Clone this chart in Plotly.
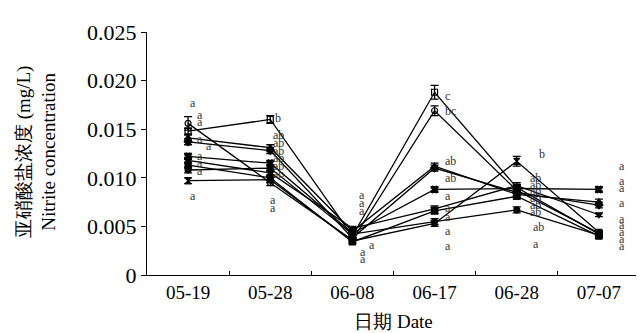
import plotly.graph_objects as go

dates = ["05-19", "05-28", "06-08", "06-17", "06-28", "07-07"]

s1 = [0.0148, 0.0160, 0.0040, 0.0188, 0.0090, 0.0042]
s2 = [0.0156, 0.0095, 0.0036, 0.0169, 0.0087, 0.0043]
s3 = [0.0141, 0.0131, 0.0045, 0.0112, 0.0083, 0.0075]
s4 = [0.0137, 0.0128, 0.0038, 0.0110, 0.0085, 0.0072]
s5 = [0.0122, 0.0115, 0.0043, 0.0088, 0.0089, 0.0088]
s6 = [0.0118, 0.0105, 0.0048, 0.0068, 0.0092, 0.0062]
s7 = [0.0113, 0.0100, 0.0034, 0.0066, 0.0081, 0.0040]
s8 = [0.0108, 0.0110, 0.0042, 0.0055, 0.0067, 0.0041]
s9 = [0.0097, 0.0098, 0.0035, 0.0053, 0.0117, 0.0044]

e1 = [0.0003, 0.0004, 0.0002, 0.0007, 0.0003, 0.0002]
e2 = [0.0007, 0.0003, 0.0002, 0.0005, 0.0003, 0.0002]
e3 = [0.0003, 0.0003, 0.0002, 0.0003, 0.0003, 0.0003]
e4 = [0.0003, 0.0003, 0.0002, 0.0003, 0.0003, 0.0003]
e5 = [0.0003, 0.0003, 0.0002, 0.0003, 0.0003, 0.0003]
e6 = [0.0003, 0.0003, 0.0002, 0.0003, 0.0003, 0.0002]
e7 = [0.0003, 0.0003, 0.0002, 0.0003, 0.0003, 0.0002]
e8 = [0.0003, 0.0003, 0.0002, 0.0003, 0.0003, 0.0002]
e9 = [0.0003, 0.0003, 0.0002, 0.0003, 0.0005, 0.0002]

series = [s1, s2, s3, s4, s5, s6, s7, s8, s9]
errors = [e1, e2, e3, e4, e5, e6, e7, e8, e9]
symbols = ["square-open", "circle-open", "triangle-up", "diamond", "x",
           "triangle-down", "square", "circle", "hourglass"]

# significance letters: (label, y value) per date
lab_0519 = ["a"] * 9
pos_0519 = [0.0177, 0.0165, 0.0157, 0.0140, 0.0133, 0.0122, 0.0115, 0.0107, 0.0081]
lab_0528 = ["b", "ab", "ab", "ab", "ab", "ab", "ab", "a", "a"]
pos_0528 = [0.0162, 0.0144, 0.0136, 0.0128, 0.0120, 0.0112, 0.0104, 0.0077, 0.0069]
lab_0608 = ["a", "a", "a", "a", "a", "a"]
pos_0608 = [0.0082, 0.0074, 0.0066, 0.0031, 0.0024, 0.0016]
lab_0617 = ["c", "bc", "ab", "ab", "a", "a", "a", "a", "a"]
pos_0617 = [0.0184, 0.0169, 0.0117, 0.0100, 0.0081, 0.0069, 0.0060, 0.0045, 0.0030]
lab_0628 = ["b", "ab", "ab", "ab", "ab", "ab", "ab", "ab", "a"]
pos_0628 = [0.0124, 0.0100, 0.0093, 0.0086, 0.0079, 0.0072, 0.0065, 0.0049, 0.0032]
lab_0707 = ["a"] * 9
pos_0707 = [0.0112, 0.0097, 0.0090, 0.0074, 0.0058, 0.0051, 0.0044, 0.0037, 0.0030]

shift_0519 = [0, 7, 7, 7, 16, 7, 7, 7, 0]
shift_0528 = [3, 1, 1, 1, 1, 1, 1, -2, -2]
shift_0608 = [5, 5, 5, 15, 6, 6]
shift_0617 = [8] * 9
shift_0628 = [20, 11, 11, 11, 11, 11, 11, 14, 14]
shift_0707 = [18] * 9

y_title = "亚硝酸盐浓度 (mg/L)<br>Nitrite concentration"
x_title = "日期 Date"

serif = "Liberation Serif"

fig = go.Figure()
for s, e, sym in zip(series, errors, symbols):
    fig.add_trace(go.Scatter(
        x=dates, y=s, mode="lines+markers",
        line=dict(color="black", width=1.3),
        marker=dict(symbol=sym, size=6, color="black",
                    line=dict(color="black", width=1.2)),
        error_y=dict(type="data", array=e, visible=True, color="black",
                     thickness=1.3, width=4),
        showlegend=False,
    ))

groups = [
    (dates[0], lab_0519, pos_0519, shift_0519),
    (dates[1], lab_0528, pos_0528, shift_0528),
    (dates[2], lab_0608, pos_0608, shift_0608),
    (dates[3], lab_0617, pos_0617, shift_0617),
    (dates[4], lab_0628, pos_0628, shift_0628),
    (dates[5], lab_0707, pos_0707, shift_0707),
]
for d, labs, poss, shifts in groups:
    for lab, p, sh in zip(labs, poss, shifts):
        fig.add_annotation(x=d, y=p, text=lab, showarrow=False,
                           xanchor="left", yanchor="middle", xshift=sh,
                           font=dict(family=serif, size=12, color="#333333"))

fig.add_annotation(xref="paper", yref="paper", x=-0.225, y=0.506,
                   text=y_title, textangle=-90, showarrow=False,
                   xanchor="center", yanchor="middle",
                   font=dict(family=serif, size=19, color="black"))

fig.update_layout(
    width=644, height=333,
    margin=dict(l=139, r=12, t=18, b=66),
    paper_bgcolor="white", plot_bgcolor="white",
    font=dict(family=serif, color="black", size=19),
)
fig.update_xaxes(
    type="category", range=[-0.5, 5.5], tickson="boundaries",
    ticks="inside", ticklen=4, tickcolor="black",
    showline=True, linecolor="black", linewidth=1.2, showgrid=False,
    tickfont=dict(size=19),
    title=dict(text=x_title, font=dict(size=19), standoff=12),
)
fig.update_yaxes(
    range=[0, 0.025], tickvals=[0, 0.005, 0.010, 0.015, 0.020, 0.025],
    ticktext=["0", "0.005", "0.010", "0.015", "0.020", "0.025"],
    ticks="outside", ticklen=5, tickcolor="black",
    showline=True, linecolor="black", linewidth=1.2, showgrid=False,
    zeroline=False, tickfont=dict(size=22),
)
fig.write_html("out.html")
